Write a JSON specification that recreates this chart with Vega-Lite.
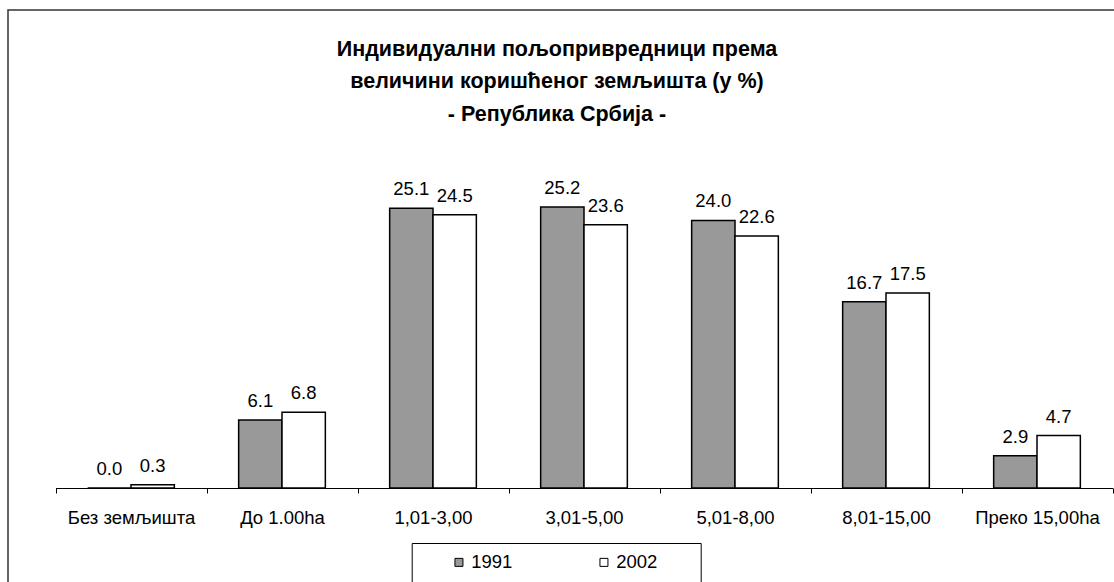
{
  "$schema": "https://vega.github.io/schema/vega-lite/v6.json",
  "width": 1110,
  "height": 580,
  "autosize": {"type": "none"},
  "padding": {"left": 8, "top": 10, "right": 0, "bottom": 0},
  "background": "white",
  "config": {"font": "Liberation Sans", "view": {"stroke": "#333333", "strokeWidth": 1.5}},
  "title": {
    "text": ["Индивидуални пољопривредници према", "величини коришћеног земљишта (у %)", "- Република Србија -"],
    "fontSize": 21.5, "fontWeight": "bold", "color": "black", "anchor": "middle", "frame": "group",
    "baseline": "top", "lineHeight": 32.5, "offset": -115, "dx": -6
  },
  "data": {"values": [
    {"cat": "Без земљишта", "year": "1991", "value": 0.0},
    {"cat": "Без земљишта", "year": "2002", "value": 0.3},
    {"cat": "До 1.00ha", "year": "1991", "value": 6.1},
    {"cat": "До 1.00ha", "year": "2002", "value": 6.8},
    {"cat": "1,01-3,00", "year": "1991", "value": 25.1},
    {"cat": "1,01-3,00", "year": "2002", "value": 24.5},
    {"cat": "3,01-5,00", "year": "1991", "value": 25.2},
    {"cat": "3,01-5,00", "year": "2002", "value": 23.6},
    {"cat": "5,01-8,00", "year": "1991", "value": 24.0},
    {"cat": "5,01-8,00", "year": "2002", "value": 22.6},
    {"cat": "8,01-15,00", "year": "1991", "value": 16.7},
    {"cat": "8,01-15,00", "year": "2002", "value": 17.5},
    {"cat": "Преко 15,00ha", "year": "1991", "value": 2.9},
    {"cat": "Преко 15,00ha", "year": "2002", "value": 4.7}
  ]},
  "encoding": {
    "x": {
      "field": "cat", "type": "nominal", "sort": null,
      "scale": {"range": [47.5, 1104.5], "paddingInner": 0, "paddingOuter": 0},
      "axis": {
        "orient": "bottom", "offset": -102, "title": null, "labelAngle": 0, "labelFontSize": 18.5,
        "labelColor": "black", "labelPadding": 15, "tickBand": "extent", "tickSize": 5,
        "tickColor": "black", "domainColor": "black", "domainWidth": 1, "tickWidth": 1,
        "labelLimit": 200, "grid": false
      }
    },
    "xOffset": {"field": "year", "type": "nominal", "scale": {"paddingInner": 0, "paddingOuter": 0.742}},
    "y": {
      "field": "value", "type": "quantitative",
      "scale": {"domain": [0, 30], "range": [478, 143.5], "nice": false, "zero": true},
      "axis": null
    }
  },
  "layer": [
    {
      "mark": {"type": "bar", "stroke": "black", "strokeWidth": 1.5},
      "encoding": {
        "color": {
          "field": "year", "type": "nominal",
          "scale": {"domain": ["1991", "2002"], "range": ["#999999", "#ffffff"]},
          "legend": {
            "title": ".", "titleOrient": "right", "titleColor": "white", "titleFontSize": 17, "titlePadding": 28,
            "orient": "none", "legendX": 403.7, "legendY": 533, "direction": "horizontal",
            "symbolType": "square", "symbolSize": 64, "symbolStrokeColor": "black", "symbolStrokeWidth": 1,
            "labelFontSize": 18.5, "labelColor": "black", "labelOffset": 3, "padding": 10,
            "strokeColor": "black", "fillColor": "white", "symbolOffset": 28, "columnPadding": 54
          }
        }
      }
    },
    {
      "mark": {"type": "text", "dy": -13, "baseline": "alphabetic", "fontSize": 18.5, "color": "black"},
      "encoding": {"text": {"field": "value", "type": "quantitative", "format": ".1f"}}
    }
  ]
}
